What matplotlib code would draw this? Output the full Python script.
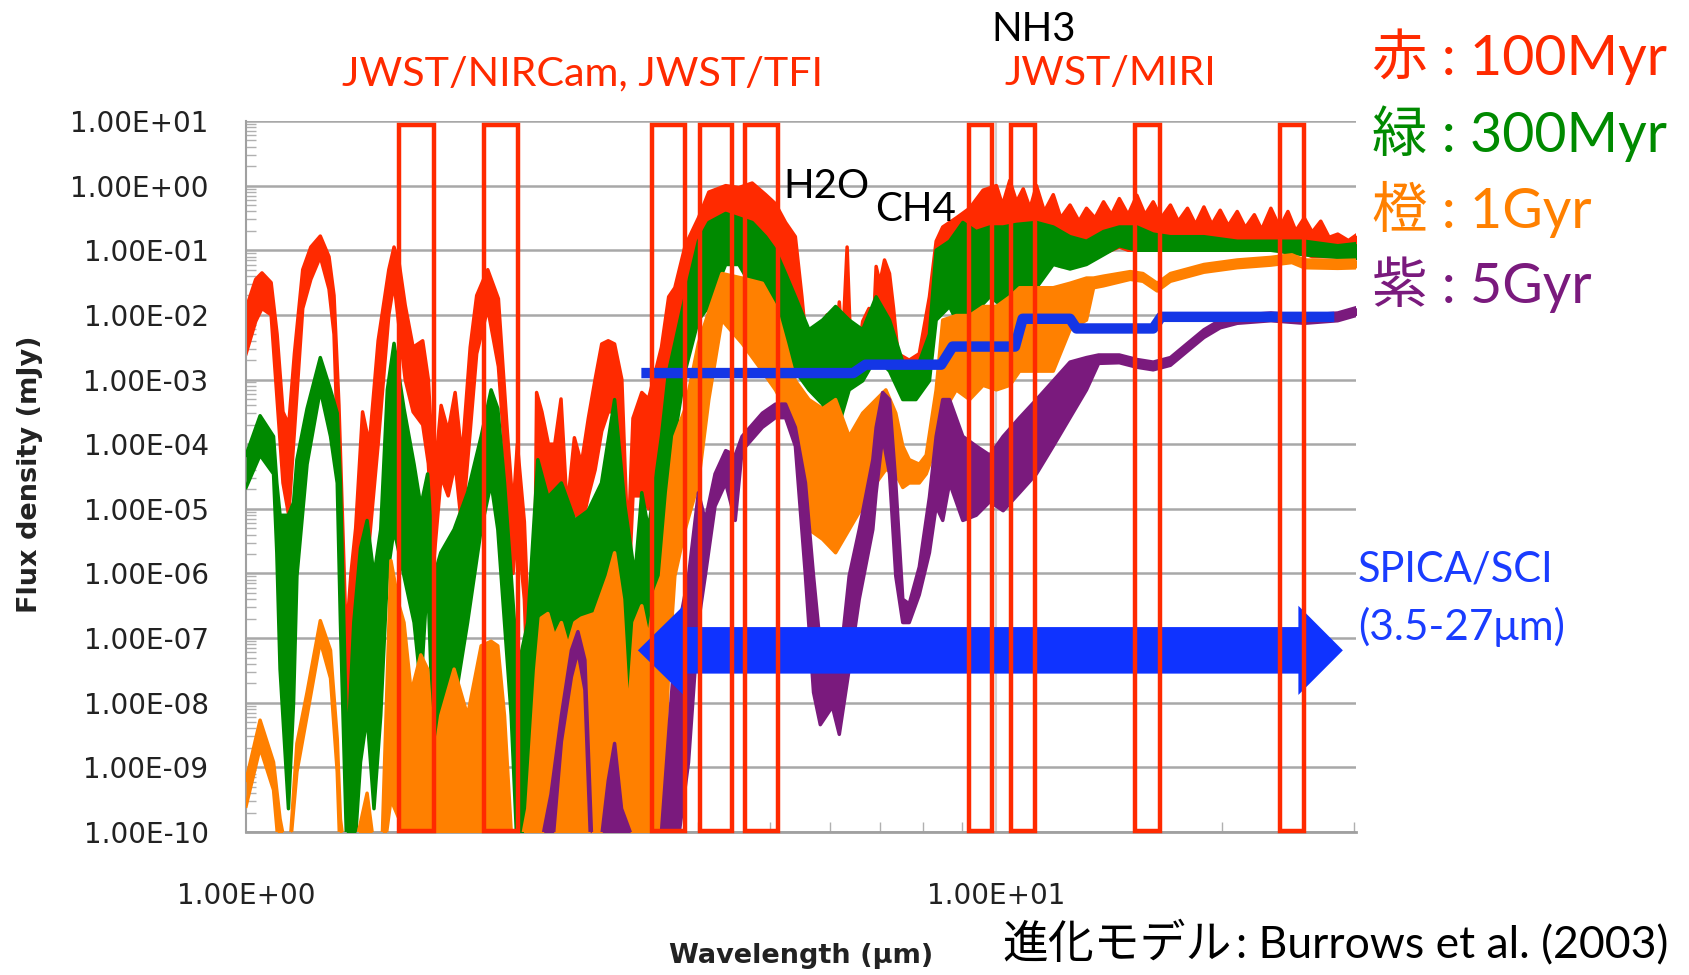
import numpy as np
import matplotlib.pyplot as plt
from matplotlib.ticker import LogLocator, FuncFormatter, NullFormatter, FixedLocator
from matplotlib.patches import Rectangle, Polygon


# --- Espectros (Burrows et al. 2003): longitud de onda [um], log10 flujo [mJy] ---

red_wl = [1.00, 1.03, 1.05, 1.08, 1.10, 1.12, 1.14, 1.16, 1.19, 1.22,
          1.256, 1.29, 1.31, 1.33, 1.36, 1.38, 1.40, 1.43, 1.46, 1.50,
          1.55, 1.575, 1.60, 1.63, 1.67, 1.72, 1.75, 1.78, 1.82, 1.86,
          1.90, 1.94, 1.99, 2.03, 2.10, 2.17, 2.23, 2.27, 2.30, 2.35,
          2.38, 2.42, 2.44, 2.48, 2.53, 2.58, 2.63, 2.68, 2.74, 2.80,
          2.86, 2.92, 2.98, 3.04, 3.10, 3.17, 3.23, 3.28, 3.37, 3.44,
          3.51, 3.58, 3.66, 3.73, 3.85, 4.01, 4.14, 4.36, 4.54, 4.73,
          4.93, 5.08, 5.24, 5.40, 5.51, 5.57, 5.63, 5.75, 5.82, 5.87,
          5.95, 6.00, 6.11, 6.18, 6.24, 6.33, 6.40, 6.55, 6.64, 6.77,
          6.85, 6.92, 7.00, 7.10, 7.21, 7.30, 7.40, 7.66, 7.90, 8.15,
          8.32, 8.49, 8.85, 9.22, 9.61, 10.01, 10.2, 10.43, 10.65, 10.87,
          11.1, 11.32, 11.6, 11.92, 12.2, 12.55, 12.9, 13.2, 13.55, 13.91,
          14.25, 14.6, 15.0, 15.41, 15.8, 16.2, 16.6, 17.08, 17.5, 18.0,
          18.45, 18.93, 19.4, 19.9, 20.4, 20.97, 21.5, 22.1, 22.6, 23.25,
          23.9, 24.5, 25.1, 25.76, 26.4, 27.1, 27.8, 28.55, 29.5, 30.6]
red_hi = [-1.9, -1.45, -1.35, -1.5, -2.3, -3.5, -3.7, -2.6, -1.3, -0.95,
          -0.78, -1.1, -1.7, -3.4, -7.0, -6.0, -5.3, -3.5, -4.0, -2.4,
          -1.3, -0.95, -1.2, -1.85, -2.5, -2.4, -3.0, -4.6, -3.4, -3.8,
          -3.2, -4.2, -2.5, -1.7, -1.3, -1.75, -3.8, -5.0, -4.0, -5.2,
          -6.8, -7.6, -3.2, -3.5, -4.0, -4.0, -3.3, -5.0, -3.9, -4.3,
          -3.6, -3.0, -2.45, -2.4, -2.45, -3.0, -5.6, -3.6, -3.2, -3.3,
          -2.9, -2.5, -1.72, -1.58, -0.93, -0.5, -0.1, 0.0, -0.03, 0.04,
          -0.14, -0.28, -0.57, -0.79, -1.72, -2.3, -2.5, -2.6, -2.3, -2.6,
          -2.0, -2.6, -2.5, -1.8, -2.5, -0.95, -2.5, -2.6, -2.1, -1.9,
          -2.4, -1.25, -1.5, -1.15, -1.36, -1.9, -2.6, -2.7, -2.6, -1.72,
          -0.86, -0.64, -0.5, -0.35, -0.07, 0.0, -0.3, 0.08, -0.25, -0.05,
          -0.35, 0.0, -0.4, -0.14, -0.5, -0.3, -0.55, -0.35, -0.5, -0.25,
          -0.45, -0.2, -0.45, -0.15, -0.45, -0.25, -0.5, -0.3, -0.55, -0.35,
          -0.6, -0.33, -0.6, -0.38, -0.62, -0.4, -0.65, -0.45, -0.68, -0.35,
          -0.65, -0.4, -0.7, -0.5, -0.72, -0.55, -0.8, -0.75, -0.85, -0.72]
red_lo = [-2.6, -2.1, -1.9, -2.0, -3.3, -4.6, -5.1, -3.8, -1.9, -1.45,
          -1.1, -1.6, -2.3, -4.6, -8.2, -8.0, -6.5, -5.5, -5.5, -4.0,
          -2.0, -1.5, -2.2, -3.0, -3.5, -3.7, -4.3, -5.8, -4.5, -4.8,
          -4.3, -5.3, -3.8, -2.6, -1.9, -2.8, -4.7, -6.0, -5.2, -6.4,
          -8.2, -8.6, -5.0, -4.5, -5.0, -5.0, -4.5, -6.0, -5.0, -5.3,
          -4.8, -4.4, -3.8, -3.5, -3.5, -4.2, -6.5, -4.8, -4.8, -5.0,
          -4.5, -4.0, -3.0, -2.8, -2.0, -1.3, -0.9, -0.8, -0.8, -0.9,
          -1.0, -1.2, -1.5, -1.9, -2.4, -2.9, -3.0, -3.1, -3.2, -3.2,
          -3.2, -3.3, -3.3, -3.0, -3.0, -2.8, -3.0, -3.0, -2.9, -2.8,
          -2.8, -2.6, -2.6, -2.5, -2.6, -2.8, -3.1, -3.1, -3.1, -2.6,
          -1.9, -1.8, -1.7, -1.6, -1.5, -1.5, -1.5, -1.6, -1.6, -1.8,
          -1.7, -1.5, -1.35, -1.2, -1.25, -1.25, -1.2, -1.2, -1.1, -1.05,
          -1.0, -0.95, -1.0, -1.0, -1.0, -1.0, -1.0, -1.0, -1.0, -1.0,
          -1.0, -1.0, -1.0, -1.0, -1.0, -1.0, -1.0, -1.0, -1.0, -1.0,
          -1.0, -1.05, -1.05, -1.05, -1.1, -1.1, -1.1, -1.1, -1.15, -1.15]

green_wl = [1.00, 1.044, 1.088, 1.099, 1.11, 1.139, 1.157, 1.169, 1.206, 1.256,
            1.296, 1.323, 1.336, 1.364, 1.392, 1.421, 1.45, 1.481, 1.512, 1.543,
            1.575, 1.624, 1.675, 1.71, 1.746, 1.781, 1.818, 1.894, 1.974, 2.058,
            2.122, 2.166, 2.211, 2.257, 2.303, 2.375, 2.449, 2.526, 2.633, 2.744,
            2.858, 2.978, 3.10, 3.20, 3.30, 3.37, 3.44, 3.51, 3.58, 3.66,
            3.73, 3.85, 4.01, 4.14, 4.36, 4.54, 4.73, 4.93, 5.08, 5.24,
            5.40, 5.63, 5.87, 6.11, 6.37, 6.64, 6.92, 7.21, 7.51, 7.82,
            8.15, 8.32, 8.67, 9.03, 9.41, 9.81, 10.22, 10.65, 11.32, 11.92,
            12.55, 13.2, 13.91, 14.6, 15.41, 16.2, 17.08, 18.93, 20.97, 23.25,
            25.76, 28.55, 30.6]
green_hi = [-4.17, -3.56, -3.88, -4.6, -5.1, -5.1, -4.9, -4.24, -3.45, -2.66,
            -3.16, -3.52, -4.6, -8.9, -6.76, -5.61, -5.18, -6.04, -5.32, -3.16,
            -2.44, -3.45, -4.31, -4.96, -4.46, -6.04, -5.68, -5.32, -4.75, -3.88,
            -3.16, -3.45, -4.6, -6.04, -7.48, -6.76, -4.24, -4.82, -4.6, -5.18,
            -5.03, -4.6, -3.31, -4.96, -6.04, -4.75, -5.32, -4.6, -3.88, -2.87,
            -2.44, -1.72, -0.86, -0.57, -0.43, -0.5, -0.57, -0.79, -1.0, -1.36,
            -1.72, -2.23, -2.08, -1.87, -2.08, -2.23, -1.72, -2.08, -2.73, -2.87,
            -2.3, -1.0, -0.86, -0.57, -0.71, -0.64, -0.64, -0.6, -0.57, -0.64,
            -0.79, -0.86, -0.71, -0.64, -0.64, -0.75, -0.79, -0.79, -0.86, -0.86,
            -0.86, -0.93, -0.89]
green_lo = [-4.67, -4.17, -4.46, -5.68, -7.48, -9.64, -8.0, -6.04, -4.31, -3.16,
            -3.88, -4.6, -6.76, -10.5, -10.5, -8.92, -8.2, -9.64, -8.2, -6.04,
            -5.32, -6.04, -6.76, -7.77, -6.04, -8.92, -8.2, -8.06, -6.76, -5.32,
            -4.6, -5.32, -6.76, -8.2, -10.5, -10.5, -6.76, -7.12, -7.12, -6.9,
            -6.69, -6.62, -6.04, -7.48, -8.34, -6.04, -7.48, -6.76, -6.04, -4.6,
            -3.88, -2.87, -2.08, -1.87, -1.22, -1.22, -1.58, -1.87, -2.08, -2.44,
            -2.87, -3.16, -3.38, -3.88, -3.16, -3.02, -2.66, -2.87, -3.31, -3.31,
            -3.02, -2.08, -1.87, -2.3, -1.94, -1.72, -1.87, -1.8, -1.58, -1.22,
            -1.29, -1.22, -1.07, -0.93, -1.0, -1.0, -1.0, -1.0, -1.0, -1.0,
            -1.07, -1.11, -1.15]

orange_wl = [1.00, 1.044, 1.088, 1.11, 1.14, 1.169, 1.206, 1.256, 1.296, 1.323,
             1.336, 1.36, 1.40, 1.45, 1.48, 1.52, 1.56, 1.60, 1.624, 1.66,
             1.71, 1.746, 1.781, 1.818, 1.894, 1.974, 2.058, 2.122, 2.166, 2.211,
             2.257, 2.30, 2.375, 2.44, 2.475, 2.526, 2.578, 2.633, 2.687, 2.744,
             2.80, 2.917, 3.04, 3.10, 3.167, 3.233, 3.30, 3.37, 3.44, 3.51,
             3.58, 3.66, 3.73, 3.85, 4.01, 4.14, 4.31, 4.585, 4.88, 5.08,
             5.24, 5.40, 5.63, 5.87, 6.11, 6.37, 6.64, 6.92, 7.13, 7.35,
             7.51, 7.66, 7.90, 8.07, 8.32, 8.49, 8.85, 9.22, 9.61, 10.01,
             10.43, 10.75, 11.32, 11.92, 12.55, 13.2, 13.49, 13.91, 15.1, 15.7,
             16.4, 17.08, 18.93, 20.97, 23.25, 24.8, 25.76, 28.55, 30.6]
orange_hi = [-9.2, -8.27, -8.92, -9.8, -10.5, -8.63, -7.84, -6.73, -7.19, -8.56,
             -9.8, -10.5, -10.2, -9.4, -10.2, -10.0, -5.8, -6.5, -6.76, -7.84,
             -7.26, -7.48, -8.92, -8.2, -7.48, -8.2, -7.12, -7.05, -7.12, -8.2,
             -10.0, -10.5, -9.64, -7.5, -6.69, -6.62, -6.98, -6.76, -7.12, -6.76,
             -6.69, -6.62, -6.04, -5.68, -6.4, -8.2, -6.76, -6.5, -7.0, -6.3,
             -6.04, -4.75, -3.88, -3.45, -2.44, -1.95, -1.36, -1.43, -1.51, -1.87,
             -2.44, -3.02, -3.31, -3.45, -3.31, -3.88, -3.52, -3.31, -3.16, -3.52,
             -4.03, -4.24, -4.31, -4.17, -3.16, -2.08, -2.01, -2.01, -1.87, -1.87,
             -1.72, -1.58, -1.58, -1.58, -1.51, -1.43, -1.43, -1.40, -1.33, -1.36,
             -1.51, -1.36, -1.22, -1.15, -1.11, -1.07, -1.15, -1.16, -1.15]
orange_lo = [-9.6, -8.7, -9.35, -10.5, -10.5, -9.07, -8.2, -7.05, -7.62, -9.07,
             -10.5, -10.5, -10.5, -10.5, -10.5, -10.5, -9.5, -9.8, -10.5, -10.5,
             -10.5, -10.5, -10.5, -10.5, -10.5, -10.5, -10.5, -10.5, -10.5, -10.5,
             -10.5, -10.5, -10.5, -10.5, -10.5, -10.5, -10.5, -10.5, -10.5, -10.5,
             -10.5, -10.5, -10.5, -10.5, -10.5, -10.5, -10.5, -10.5, -10.5, -10.5,
             -10.5, -7.48, -6.04, -5.32, -4.6, -3.31, -2.08, -2.44, -2.87, -3.16,
             -3.45, -3.88, -5.32, -5.47, -5.68, -5.32, -4.96, -4.6, -4.39, -4.46,
             -4.67, -4.6, -4.6, -4.46, -4.03, -3.52, -3.16, -3.31, -3.09, -3.16,
             -3.09, -2.87, -2.87, -2.87, -2.23, -2.08, -1.58, -1.55, -1.45, -1.48,
             -1.63, -1.48, -1.34, -1.27, -1.23, -1.19, -1.27, -1.28, -1.27]

purple_wl = [2.45, 2.50, 2.55, 2.633, 2.715, 2.77, 2.83, 2.887, 2.95, 3.04,
             3.10, 3.167, 3.30, 3.45, 3.58, 3.733, 3.89, 4.01, 4.095, 4.22,
             4.36, 4.49, 4.585, 4.88, 5.08, 5.24, 5.40, 5.57, 5.71, 5.83,
             6.05, 6.18, 6.37, 6.57, 6.85, 6.92, 7.06, 7.21, 7.35, 7.51,
             7.66, 7.90, 8.15, 8.32, 8.49, 8.67, 9.03, 9.41, 9.81, 10.22,
             10.75, 11.32, 11.92, 12.55, 13.2, 13.7, 14.6, 15.41, 16.2, 17.08,
             18.0, 18.93, 19.9, 20.97, 23.25, 25.76, 28.55, 30.6]
purple_hi = [-10.5, -9.93, -9.42, -8.2, -7.19, -6.9, -7.34, -10.0, -10.5, -9.21,
             -8.63, -9.64, -10.2, -10.2, -10.0, -7.12, -6.04, -4.75, -5.18, -4.46,
             -4.1, -4.17, -3.88, -3.52, -3.38, -3.38, -3.74, -4.6, -6.04, -7.12,
             -7.12, -7.48, -6.04, -5.32, -4.24, -3.74, -3.2, -3.31, -4.6, -6.4,
             -6.47, -5.9, -4.82, -3.88, -3.31, -3.31, -3.88, -4.03, -4.17, -3.88,
             -3.59, -3.31, -3.02, -2.73, -2.66, -2.62, -2.62, -2.69, -2.73, -2.66,
             -2.44, -2.23, -2.08, -2.01, -1.97, -2.01, -1.97, -1.87]
purple_lo = [-10.5, -10.5, -10.5, -8.6, -7.6, -7.2, -7.8, -10.5, -10.5, -10.5,
             -10.5, -10.5, -10.5, -10.5, -10.5, -10.5, -8.92, -6.76, -6.04, -4.96,
             -4.6, -5.18, -4.1, -3.74, -3.59, -3.59, -4.03, -6.04, -7.84, -8.34,
             -8.06, -8.49, -7.48, -6.4, -5.32, -4.75, -3.88, -4.46, -6.04, -6.76,
             -6.76, -6.33, -5.68, -4.96, -5.18, -4.6, -5.18, -5.1, -4.89, -5.03,
             -4.75, -4.46, -4.03, -3.59, -3.16, -2.75, -2.74, -2.81, -2.85, -2.78,
             -2.56, -2.35, -2.2, -2.13, -2.09, -2.13, -2.09, -1.99]

# sensibilidad SPICA/SCI (escalones)
spica_wl = [3.42, 6.45, 6.7, 8.45, 8.75, 10.6, 10.85, 12.55, 12.8, 16.2, 16.6, 27.8]
spica_log = [-2.9, -2.9, -2.77, -2.77, -2.49, -2.49, -2.06, -2.06, -2.21, -2.21, -2.03, -2.03]

# bandas JWST (cajas rojas), en um
box_lo = [1.60, 2.078, 3.475, 4.033, 4.623, 9.20, 10.48, 15.33, 23.92]
box_hi = [1.778, 2.303, 3.851, 4.445, 5.123, 9.89, 11.27, 16.56, 25.76]

# flecha SPICA 3.5-27 um
arrow_tip = [3.33, 29.0]
arrow_head = [3.83, 25.3]
arrow_mid = -7.19
arrow_body = 0.36
arrow_half = 0.69

RED = '#ff2a00'
GREEN = '#008a00'
ORANGE = '#ff8000'
PURPLE = '#7a1a7d'
BLUE = '#1436e6'

fig = plt.figure(figsize=(16.9, 9.75), dpi=100)
ax = fig.add_axes([0.1456, 0.1467, 0.6568, 0.7292])
ax.set_xscale('log')
ax.set_yscale('log')
ax.set_xlim(1, 30.2)
ax.set_ylim(1e-10, 1e1)


def band(wl, hi, lo, color, z):
    wl = np.array(wl)
    hi = 10.0 ** np.array(hi)
    lo = 10.0 ** np.array(lo)
    ax.fill_between(wl, lo, hi, color=color, lw=0, zorder=z)
    ax.plot(wl, hi, color=color, lw=2.5, zorder=z)
    ax.plot(wl, lo, color=color, lw=2.5, zorder=z)


band(red_wl, red_hi, red_lo, RED, 2)
band(green_wl, green_hi, green_lo, GREEN, 3)
band(orange_wl, orange_hi, orange_lo, ORANGE, 4)
band(purple_wl, purple_hi, purple_lo, PURPLE, 5)

ax.plot(spica_wl, 10.0 ** np.array(spica_log), color=BLUE, lw=7.5, zorder=6)

# flecha doble
m = 10 ** arrow_mid
bt, bb = 10 ** (arrow_mid + arrow_body), 10 ** (arrow_mid - arrow_body)
ht, hb = 10 ** (arrow_mid + arrow_half), 10 ** (arrow_mid - arrow_half)
verts = [(arrow_tip[0], m), (arrow_head[0], ht), (arrow_head[0], bt), (arrow_head[1], bt),
         (arrow_head[1], ht), (arrow_tip[1], m), (arrow_head[1], hb), (arrow_head[1], bb),
         (arrow_head[0], bb), (arrow_head[0], hb)]
ax.add_patch(Polygon(verts, closed=True, color='#0f33ff', lw=0, zorder=7))

for a, b in zip(box_lo, box_hi):
    ax.add_patch(Rectangle((a, 1.05e-10), b - a, 8.8, fill=False, ec=RED, lw=3.2,
                           zorder=8, clip_on=False))

# --- ejes ---
ax.set_axisbelow(True)
ax.yaxis.grid(True, which='major', color='#a8a8a8', lw=1.8)
ax.axvline(10, color='#d0d0d0', lw=1.5, zorder=0.5)
for s in ['top', 'right']:
    ax.spines[s].set_visible(False)
ax.spines['left'].set_color('#a0a0a0')
ax.spines['bottom'].set_color('#a0a0a0')
ax.spines['left'].set_linewidth(1.5)
ax.spines['bottom'].set_linewidth(2)

fmt = FuncFormatter(lambda v, p: f"{v:.2E}")
ax.yaxis.set_major_locator(LogLocator(base=10, numticks=15))
ax.yaxis.set_major_formatter(fmt)
ax.yaxis.set_minor_locator(LogLocator(base=10, subs=np.arange(2, 10), numticks=15))
ax.yaxis.set_minor_formatter(NullFormatter())
ax.xaxis.set_major_locator(FixedLocator([1, 10]))
ax.xaxis.set_major_formatter(fmt)
ax.xaxis.set_minor_locator(LogLocator(base=10, subs=np.arange(2, 10), numticks=15))
ax.xaxis.set_minor_formatter(NullFormatter())
ax.tick_params(axis='y', which='major', length=0, pad=27, labelsize=20, labelcolor='#222222')
ax.tick_params(axis='x', which='major', length=0, pad=36, labelsize=20, labelcolor='#222222')
ax.tick_params(which='minor', direction='in', length=7, color='#b0b0b0', width=1)

ax.set_ylabel('Flux density (mJy)', fontsize=19.5, fontweight='bold', color='#222222', va='center')
ax.yaxis.set_label_coords(-0.1946, 0.5035)
ax.set_xlabel('Wavelength (μm)', fontsize=19.5, fontweight='bold', color='#222222', va='center')
ax.xaxis.set_label_coords(0.5, -0.1744)

fam = ['Lato', 'Noto Sans CJK JP']
W, H = 1690, 975


def ftext(x, y, s, **kw):
    fig.text(x / W, 1 - y / H, s, ha='left', va='baseline', **kw)


ftext(342, 85, 'JWST/NIRCam, JWST/TFI', color=RED, fontsize=29.7, family=fam)
ftext(1005, 85, 'JWST/MIRI', color=RED, fontsize=29.5, family=fam)
ftext(991, 41, 'NH3', color='black', fontsize=29, family=fam)
ftext(783, 198, 'H2O', color='black', fontsize=29, family=fam)
ftext(875, 221, 'CH4', color='black', fontsize=29, family=fam)

ftext(1372, 75, '赤 : 100Myr', color=RED, fontsize=40, family=fam)
ftext(1372, 152, '緑 : 300Myr', color=GREEN, fontsize=40, family=fam)
ftext(1372, 228, '橙 : 1Gyr', color=ORANGE, fontsize=40, family=fam)
ftext(1372, 303, '紫 : 5Gyr', color=PURPLE, fontsize=40, family=fam)

ftext(1358, 582, 'SPICA/SCI', color='#1a3cff', fontsize=30, family=fam)
ftext(1358, 640, '(3.5-27μm)', color='#1a3cff', fontsize=30.5, family=['Lato', 'DejaVu Sans'])

ftext(1002, 958, '進化モデル', color='black', fontsize=33, family=['Noto Sans CJK JP'])
ftext(1236, 958, ': Burrows et al. (2003)', color='black', fontsize=32, family=fam)

plt.savefig('out.png', dpi=100)
